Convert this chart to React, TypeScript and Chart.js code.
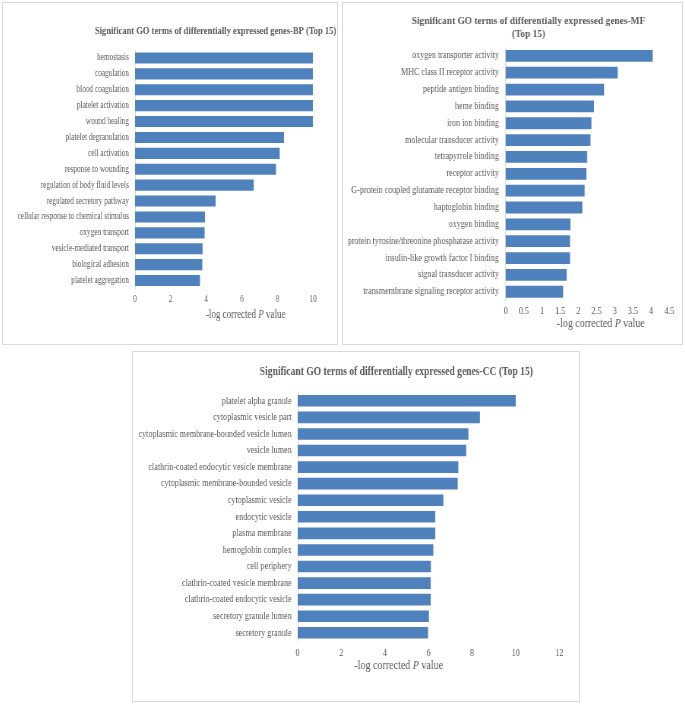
import React, { useEffect, useRef } from "react";
import { Chart, registerables } from "chart.js";

Chart.register(...registerables);

// ---------- data ----------
const bpTerms = [
  "hemostasis",
  "coagulation",
  "blood coagulation",
  "platelet activation",
  "wound healing",
  "platelet degranulation",
  "cell activation",
  "response to wounding",
  "regulation of body fluid levels",
  "regulated secretory pathway",
  "cellular response to chemical stimulus",
  "oxygen transport",
  "vesicle-mediated transport",
  "biological adhesion",
  "platelet aggregation",
];
const bpValues = [9.99, 9.99, 9.99, 9.99, 9.99, 8.37, 8.13, 7.92, 6.67, 4.53, 3.93, 3.91, 3.8, 3.78, 3.65];
const bpXTicks = [0, 2, 4, 6, 8, 10];

const mfTerms = [
  "oxygen transporter activity",
  "MHC class II receptor activity",
  "peptide antigen binding",
  "heme binding",
  "iron ion binding",
  "molecular transducer activity",
  "tetrapyrrole binding",
  "receptor activity",
  "G-protein coupled glutamate receptor binding",
  "haptoglobin binding",
  "oxygen binding",
  "protein tyrosine/threonine phosphatase activity",
  "insulin-like growth factor I binding",
  "signal transducer activity",
  "transmembrane signaling receptor activity",
];
const mfValues = [4.04, 3.08, 2.71, 2.43, 2.36, 2.33, 2.24, 2.22, 2.17, 2.11, 1.78, 1.77, 1.77, 1.68, 1.58];
const mfXTicks = [0, 0.5, 1, 1.5, 2, 2.5, 3, 3.5, 4, 4.5];

const ccTerms = [
  "platelet alpha granule",
  "cytoplasmic vesicle part",
  "cytoplasmic membrane-bounded vesicle lumen",
  "vesicle lumen",
  "clathrin-coated endocytic vesicle membrane",
  "cytoplasmic membrane-bounded vesicle",
  "cytoplasmic vesicle",
  "endocytic vesicle",
  "plasma membrane",
  "hemoglobin complex",
  "cell periphery",
  "clathrin-coated vesicle membrane",
  "clathrin-coated endocytic vesicle",
  "secretory granule lumen",
  "secretory granule",
];
const ccValues = [10.0, 8.36, 7.83, 7.73, 7.37, 7.34, 6.68, 6.31, 6.31, 6.22, 6.11, 6.1, 6.1, 6.02, 5.98];
const ccXTicks = [0, 2, 4, 6, 8, 10, 12];

const bpTitle = ["Significant GO terms of differentially expressed genes-BP (Top 15)"];
const mfTitle = ["Significant GO terms of differentially expressed genes-MF", "(Top 15)"];
const ccTitle = ["Significant GO terms of differentially expressed genes-CC (Top 15)"];
const axisTitleParts = [
  { text: "-log corrected ", italic: false },
  { text: "P", italic: true },
  { text: " value", italic: false },
];

// ---------- styling ----------
const FONT = '"Liberation Serif", "Times New Roman", serif';
const TEXT = "#595959";
const BAR = "#4f81bd";

type Cfg = {
  terms: string[];
  values: number[];
  xTicks: number[];
  title: string[];
  left: number; top: number; width: number; height: number;
  sx: number;
  areaLeft: number; areaRight: number; areaTop: number; areaBottom: number;
  tickLabelY: number;
  titleX: number; titleYs: number[]; titleSize: number;
  tickSize: number;
  axisX: number; axisY: number; axisSize: number;
};

const panelText = {
  id: "panelText",
  afterDraw(chart: any, _args: any, opts: any) {
    const ctx = chart.ctx;
    ctx.save();
    ctx.fillStyle = TEXT;
    ctx.textBaseline = "middle";
    ctx.textAlign = "left";
    for (const item of opts.items || []) {
      const fonts = item.parts.map(
        (p: any) => `${p.italic ? "italic " : ""}${item.bold ? "bold " : ""}${item.size}px ${FONT}`
      );
      let total = 0;
      const widths = item.parts.map((p: any, i: number) => {
        ctx.font = fonts[i];
        const w = ctx.measureText(p.text).width;
        total += w;
        return w;
      });
      let x = item.x - total / 2;
      item.parts.forEach((p: any, i: number) => {
        ctx.font = fonts[i];
        ctx.fillText(p.text, x, item.y);
        x += widths[i];
      });
    }
    ctx.restore();
  },
};

function Panel({ c }: { c: Cfg }) {
  const ref = useRef<HTMLCanvasElement>(null);
  const W = Math.round(c.width / c.sx);
  const H = c.height;
  const cx = (X: number) => (X - c.left) / c.sx;
  const cy = (Y: number) => Y - c.top;
  const xAxisH = 20;

  useEffect(() => {
    if (!ref.current) return;
    const aLeft = cx(c.areaLeft);
    const aRight = cx(c.areaRight);
    const aTop = cy(c.areaTop);
    const aBottom = cy(c.areaBottom);
    const tickPad = cy(c.tickLabelY) - aBottom - 0.6 * c.tickSize;
    const items = [
      ...c.title.map((t, i) => ({
        parts: [{ text: t, italic: false }],
        x: cx(c.titleX),
        y: cy(c.titleYs[i]),
        size: c.titleSize,
        bold: true,
      })),
      { parts: axisTitleParts, x: cx(c.axisX), y: cy(c.axisY), size: c.axisSize, bold: false },
    ];
    const chart = new Chart(ref.current, {
      type: "bar",
      data: {
        labels: c.terms,
        datasets: [
          {
            data: c.values,
            backgroundColor: BAR,
            borderWidth: 0,
            barPercentage: 0.7,
            categoryPercentage: 1,
          },
        ],
      },
      options: {
        indexAxis: "y",
        responsive: false,
        animation: false,
        devicePixelRatio: 1,
        layout: {
          padding: { left: 0, top: aTop, right: W - aRight, bottom: H - aBottom - xAxisH },
        },
        plugins: {
          legend: { display: false },
          title: { display: false },
          tooltip: { enabled: false },
          panelText: { items },
        } as any,
        scales: {
          x: {
            type: "linear",
            min: c.xTicks[0],
            max: c.xTicks[c.xTicks.length - 1],
            afterBuildTicks: (s: any) => {
              s.ticks = c.xTicks.map((v) => ({ value: v }));
            },
            afterFit: (s: any) => {
              s.height = xAxisH;
            },
            grid: { display: false, drawTicks: false },
            border: { display: false },
            ticks: {
              color: TEXT,
              font: { family: FONT, size: c.tickSize },
              padding: tickPad,
              maxRotation: 0,
              autoSkip: false,
              callback: (v: any) => String(v),
            },
          },
          y: {
            afterFit: (s: any) => {
              s.width = aLeft;
            },
            grid: { display: false, drawTicks: false },
            border: { display: true, color: "#d9d9d9", width: 1 },
            ticks: {
              color: TEXT,
              font: { family: FONT, size: c.tickSize },
              padding: 8,
              autoSkip: false,
            },
          },
        },
      },
      plugins: [panelText],
    } as any);
    return () => chart.destroy();
  }, []);

  return (
    <div style={{ position: "absolute", left: c.left, top: c.top, width: c.width, height: c.height, overflow: "hidden" }}>
      <div
        style={{
          position: "absolute",
          left: 0,
          top: 0,
          width: W,
          height: H,
          transform: `scaleX(${c.sx})`,
          transformOrigin: "0 0",
        }}
      >
        <canvas ref={ref} width={W} height={H} style={{ display: "block", width: W, height: H }} />
      </div>
      <div
        style={{
          position: "absolute",
          inset: 0,
          border: "1px solid #d9d9d9",
          boxSizing: "border-box",
          pointerEvents: "none",
        }}
      />
    </div>
  );
}

const bpCfg: Cfg = {
  terms: bpTerms, values: bpValues, xTicks: bpXTicks, title: bpTitle,
  left: 2, top: 2, width: 336, height: 343, sx: 0.76,
  areaLeft: 135, areaRight: 313, areaTop: 50, areaBottom: 288.5,
  tickLabelY: 299.3,
  titleX: 215.5, titleYs: [30.7], titleSize: 11.2, tickSize: 9.6,
  axisX: 245.7, axisY: 315, axisSize: 11.8,
};

const mfCfg: Cfg = {
  terms: mfTerms, values: mfValues, xTicks: mfXTicks, title: mfTitle,
  left: 342, top: 2, width: 341, height: 343, sx: 0.84,
  areaLeft: 505.7, areaRight: 669.3, areaTop: 47.4, areaBottom: 300.2,
  tickLabelY: 311.7,
  titleX: 528.5, titleYs: [20.7, 34.3], titleSize: 11.2, tickSize: 9.6,
  axisX: 600.8, axisY: 324, axisSize: 11.8,
};

const ccCfg: Cfg = {
  terms: ccTerms, values: ccValues, xTicks: ccXTicks, title: ccTitle,
  left: 132, top: 351, width: 448, height: 351, sx: 0.76,
  areaLeft: 297.7, areaRight: 559.3, areaTop: 392.5, areaBottom: 641.1,
  tickLabelY: 653.3,
  titleX: 396.3, titleYs: [371.7], titleSize: 12.6, tickSize: 10.7,
  axisX: 398.7, axisY: 665.5, axisSize: 13.2,
};

export default function App() {
  return (
    <div style={{ position: "absolute", left: 0, top: 0, width: 685, height: 704, background: "#fff", overflow: "hidden" }}>
      <Panel c={bpCfg} />
      <Panel c={mfCfg} />
      <Panel c={ccCfg} />
    </div>
  );
}
